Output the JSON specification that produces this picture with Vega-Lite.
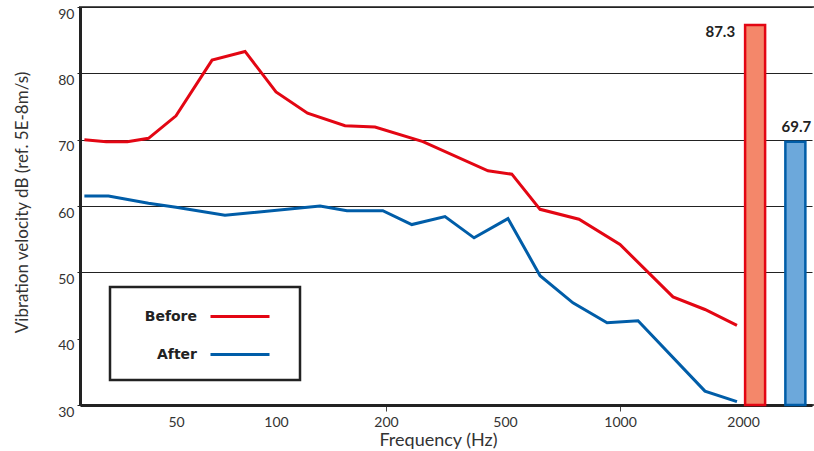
{
  "$schema": "https://vega.github.io/schema/vega-lite/v6.json",
  "width": 736,
  "height": 398,
  "autosize": {"type": "none"},
  "padding": {"left": 80, "top": 7, "right": 0, "bottom": 46},
  "background": "white",
  "config": {"view": {"stroke": "#555", "strokeWidth": 2}, "font": "Lato"},
  "datasets": {
    "spectrum": [
      {"series": "Before", "freq": 25, "level": 70.0},
      {"series": "Before", "freq": 29.5, "level": 69.7},
      {"series": "Before", "freq": 34.6, "level": 69.7},
      {"series": "Before", "freq": 40.6, "level": 70.2},
      {"series": "Before", "freq": 50, "level": 73.6},
      {"series": "Before", "freq": 64.2, "level": 82.0},
      {"series": "Before", "freq": 80.7, "level": 83.3},
      {"series": "Before", "freq": 100, "level": 77.2},
      {"series": "Before", "freq": 122, "level": 74.0},
      {"series": "Before", "freq": 154.5, "level": 72.1},
      {"series": "Before", "freq": 186.6, "level": 71.9},
      {"series": "Before", "freq": 265.8, "level": 69.7},
      {"series": "Before", "freq": 438.6, "level": 65.3},
      {"series": "Before", "freq": 521, "level": 64.8},
      {"series": "Before", "freq": 617.7, "level": 59.5},
      {"series": "Before", "freq": 781, "level": 58.0},
      {"series": "Before", "freq": 1000, "level": 54.2},
      {"series": "Before", "freq": 1348, "level": 46.3},
      {"series": "Before", "freq": 1614, "level": 44.4},
      {"series": "Before", "freq": 1933, "level": 42.0},
      {"series": "After", "freq": 25, "level": 61.5},
      {"series": "After", "freq": 30, "level": 61.5},
      {"series": "After", "freq": 40.6, "level": 60.4},
      {"series": "After", "freq": 50, "level": 59.8},
      {"series": "After", "freq": 70.2, "level": 58.6},
      {"series": "After", "freq": 132, "level": 60.0},
      {"series": "After", "freq": 156.4, "level": 59.3},
      {"series": "After", "freq": 196, "level": 59.3},
      {"series": "After", "freq": 244, "level": 57.2},
      {"series": "After", "freq": 315, "level": 58.4},
      {"series": "After", "freq": 394, "level": 55.2},
      {"series": "After", "freq": 509, "level": 58.1},
      {"series": "After", "freq": 617.7, "level": 49.5},
      {"series": "After", "freq": 753, "level": 45.4},
      {"series": "After", "freq": 925, "level": 42.4},
      {"series": "After", "freq": 1107, "level": 42.7},
      {"series": "After", "freq": 1614, "level": 32.1},
      {"series": "After", "freq": 1933, "level": 30.5}
    ],
    "overall": [
      {"series": "Before", "freq": 2160, "level": 87.3},
      {"series": "After", "freq": 2790, "level": 69.7}
    ]
  },
  "layer": [
    {
      "mark": {"type": "rule", "color": "#666", "strokeWidth": 1},
      "encoding": {
        "x": {
          "datum": 200,
          "type": "quantitative",
          "scale": {"type": "log", "domain": [25, 50, 100, 200, 500, 1000, 2000, 3000], "range": [0, 96, 196, 306, 425, 540, 663, 732], "nice": false, "zero": false},
          "axis": {
            "values": [50, 100, 200, 500, 1000, 2000],
            "format": "d",
            "grid": false,
            "domain": true,
            "domainColor": "#222",
            "domainWidth": 3,
            "ticks": true,
            "tickSize": 6,
            "tickColor": "#444",
            "tickOpacity": {"condition": {"test": "datum.value == 200 || datum.value == 1000", "value": 1}, "value": 0},
            "labelPadding": 4,
            "labelFontSize": 14,
            "labelColor": "#333",
            "labelFont": "Lato",
            "title": "Frequency (Hz)",
            "titleFont": "Lato",
            "titleFontSize": 18,
            "titleFontWeight": "normal",
            "titleColor": "#333",
            "titleX": 358,
            "titleY": 26,
            "titleBaseline": "top"
          }
        },
        "x2": {"datum": 3000},
        "y": {
          "datum": 40,
          "type": "quantitative",
          "scale": {"domain": [30, 90], "nice": false, "zero": false},
          "axis": {
            "values": [30, 40, 50, 60, 70, 80, 90],
            "grid": true,
            "gridColor": "#222",
            "gridWidth": 1,
            "gridOpacity": {"condition": {"test": "datum.value == 40", "value": 0}, "value": 1},
            "domain": true,
            "domainColor": "#222",
            "domainWidth": 3,
            "tickSize": 3,
            "tickColor": "#222",
            "labelPadding": 3,
            "labelBaseline": "top",
            "labelOffset": 0,
            "labelFontSize": 14,
            "labelColor": "#333",
            "labelFont": "Lato",
            "title": "Vibration velocity dB (ref. 5E-8m/s)",
            "titleFont": "Lato",
            "titleFontSize": 17,
            "titleFontWeight": "normal",
            "titleColor": "#333",
            "titleX": -49,
            "titleY": 195
          }
        }
      }
    },
    {
      "mark": {"type": "rule", "color": "#777", "strokeWidth": 1.5},
      "encoding": {"x": {"datum": 200, "type": "quantitative"}}
    },
    {
      "mark": {"type": "rule", "color": "#222", "strokeWidth": 1},
      "encoding": {"x": {"datum": 1000, "type": "quantitative"}}
    },
    {
      "data": {"name": "spectrum"},
      "mark": {"type": "line", "strokeWidth": 3},
      "encoding": {
        "x": {"field": "freq", "type": "quantitative"},
        "y": {"field": "level", "type": "quantitative"},
        "color": {
          "field": "series",
          "type": "nominal",
          "scale": {"domain": ["Before", "After"], "range": ["#E30613", "#005DA8"]},
          "legend": {
            "orient": "none",
            "legendX": 30,
            "legendY": 280,
            "title": null,
            "symbolType": "M -1,0 M 13.6,0 M 7.1,0 H 13.0",
            "symbolSize": 400,
            "symbolStrokeWidth": 3,
            "labelFontSize": 14,
            "labelFont": "DejaVu Sans",
            "labelFontWeight": "bold",
            "labelColor": "#222",
            "labelAlign": "right",
            "labelOffset": 46,
            "strokeColor": "#222",
            "fillColor": "white",
            "padding": 18,
            "rowPadding": 19,
            "encode": {"legend": {"update": {"strokeWidth": {"value": 2.5}}}}
          }
        }
      }
    },
    {
      "data": {"name": "overall"},
      "mark": {"type": "bar", "width": 20, "strokeWidth": 2.5},
      "encoding": {
        "x": {"field": "freq", "type": "quantitative"},
        "y": {"field": "level", "type": "quantitative"},
        "y2": {"datum": 30},
        "fill": {"field": "series", "type": "nominal", "scale": {"domain": ["Before", "After"], "range": ["#F4876A", "#6CA8DB"]}, "legend": null},
        "stroke": {"field": "series", "type": "nominal", "scale": {"domain": ["Before", "After"], "range": ["#E30613", "#005DA8"]}, "legend": null}
      }
    },
    {
      "data": {"name": "overall"},
      "transform": [{"filter": "datum.series == 'Before'"}],
      "mark": {"type": "text", "align": "right", "baseline": "middle", "dx": -20, "dy": 7, "fontSize": 15, "fontWeight": "bold", "color": "#222", "font": "Lato"},
      "encoding": {
        "x": {"field": "freq", "type": "quantitative"},
        "y": {"field": "level", "type": "quantitative"},
        "text": {"field": "level", "type": "quantitative", "format": ".1f"}
      }
    },
    {
      "data": {"name": "overall"},
      "transform": [{"filter": "datum.series == 'After'"}],
      "mark": {"type": "text", "align": "center", "baseline": "middle", "dx": 1, "dy": -15, "fontSize": 15, "fontWeight": "bold", "color": "#222", "font": "Lato"},
      "encoding": {
        "x": {"field": "freq", "type": "quantitative"},
        "y": {"field": "level", "type": "quantitative"},
        "text": {"field": "level", "type": "quantitative", "format": ".1f"}
      }
    }
  ]
}
